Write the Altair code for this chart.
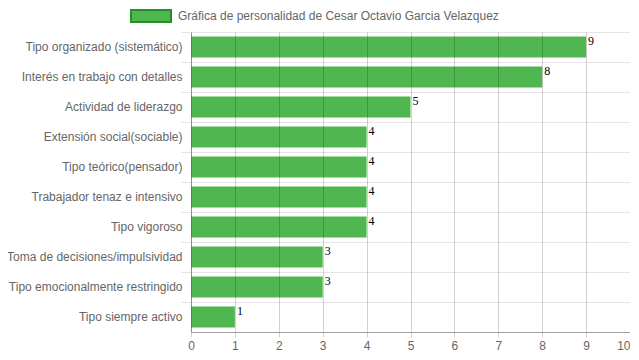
import altair as alt
import pandas as pd

categories = [
    "Tipo organizado (sistemático)",
    "Interés en trabajo con detalles",
    "Actividad de liderazgo",
    "Extensión social(sociable)",
    "Tipo teórico(pensador)",
    "Trabajador tenaz e intensivo",
    "Tipo vigoroso",
    "Toma de decisiones/impulsividad",
    "Tipo emocionalmente restringido",
    "Tipo siempre activo",
]
values = [9, 8, 5, 4, 4, 4, 4, 3, 3, 1]
series_name = "Gráfica de personalidad de Cesar Octavio Garcia Velazquez"
x_ticks = list(range(0, 11))

df = pd.DataFrame({"cat": categories, "val": values, "series": series_name})

FONT = "Liberation Sans"

y_enc = alt.Y(
    "cat:N",
    sort=categories,
    title=None,
    scale=alt.Scale(paddingInner=0, paddingOuter=0),
    axis=alt.Axis(
        bandPosition=0,
        grid=True,
        gridColor="#000000",
        gridOpacity=0.1,
        tickColor="#000000",
        tickOpacity=0.1,
        tickSize=10,
        labelPadding=-1,
        labelFont=FONT,
        labelFontSize=12,
        labelColor="#666666",
        domainColor="#b0b0b0",
        labelLimit=300,
    ),
)

x_enc = alt.X(
    "val:Q",
    title=None,
    scale=alt.Scale(domain=[0, 10], nice=False),
    axis=alt.Axis(
        values=x_ticks,
        grid=True,
        gridColor="#000000",
        gridOpacity=0.18,
        tickColor="#000000",
        tickOpacity=0.18,
        tickSize=5,
        labelPadding=3,
        labelAlign=alt.expr("datum.value == 10 ? 'right' : 'center'"),
        labelFont=FONT,
        labelFontSize=12,
        labelColor="#666666",
        domainColor="#a0a0a0",
        zindex=1,
    ),
)

bars = alt.Chart(df).mark_bar(height=alt.RelativeBandSize(0.7), opacity=0.95).encode(
    y=y_enc,
    x=x_enc,
    color=alt.Color(
        "series:N",
        scale=alt.Scale(domain=[series_name], range=["#47b347"]),
        legend=alt.Legend(
            title=None,
            orient="none",
            legendX=-61,
            legendY=-37,
            symbolType="M-1,-0.3H1V0.3H-1Z",
            symbolSize=1600,
            symbolStrokeColor="#1b8a1b",
            symbolStrokeWidth=2,
            symbolFillColor="#4db84d",
            labelFont=FONT,
            labelFontSize=12,
            labelColor="#666666",
            labelOffset=6,
            padding=0,
            labelLimit=400,
        ),
    ),
)

labels = alt.Chart(df).mark_text(
    align="left", baseline="top", dx=2, dy=-11, font="Liberation Serif", fontSize=12, color="#000000"
).encode(
    y=alt.Y("cat:N", sort=categories),
    x=alt.X("val:Q"),
    text=alt.Text("val:Q"),
)

chart = (
    alt.layer(bars, labels)
    .properties(
        width=439,
        height=300,
        autosize=alt.AutoSizeParams(type="none"),
        padding={"left": 183, "top": 24, "right": 0, "bottom": 20},
    )
    .configure_view(stroke=None)
)

chart.save("out.html", embed_options={"renderer": "svg", "actions": False})
